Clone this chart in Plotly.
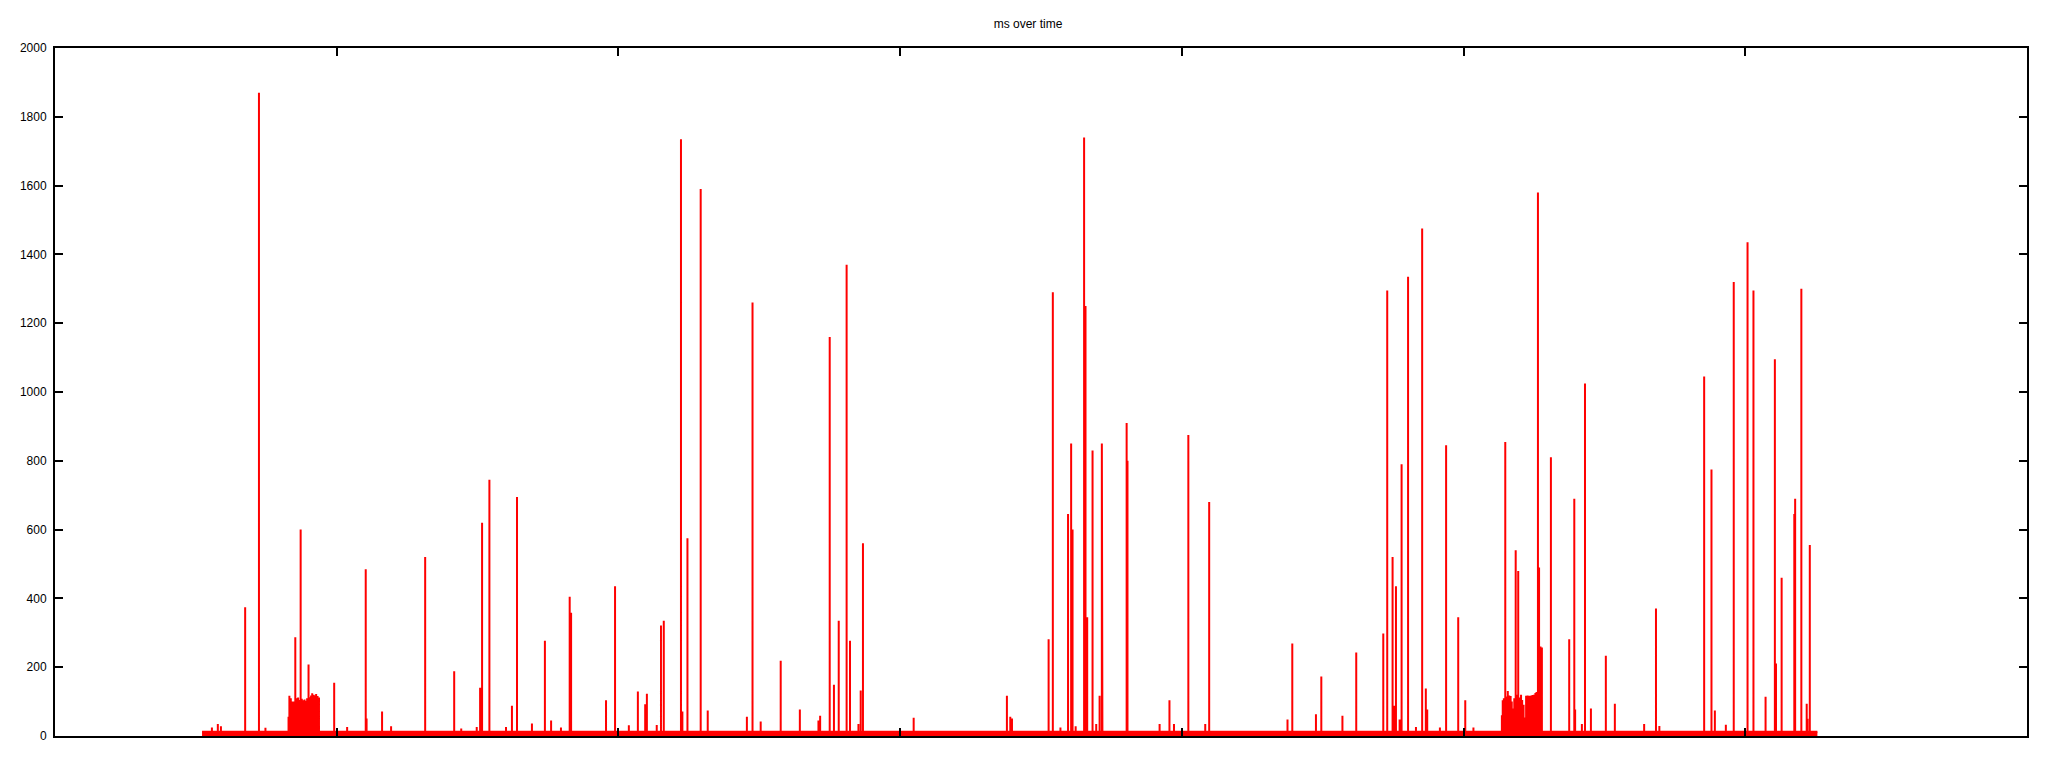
import plotly.graph_objects as go

# Event times (s) and response times (ms)
t_start, t_end = 522, 6256
baseline_ms = 12

spike_t = [
    557, 578, 589, 675, 724, 747,
    829, 832, 837, 842, 845, 849, 853, 858, 863, 867, 872, 876, 881, 886, 890, 895, 900, 904, 909, 913, 918, 923, 927, 932, 937,
    991, 1037, 1103, 1106, 1161, 1193, 1314, 1417, 1442, 1497, 1509, 1516, 1542, 1601, 1622, 1640,
    1693, 1739, 1761, 1796, 1827, 1832, 1956, 1988, 2037, 2069, 2095, 2101, 2136, 2151, 2161,
    2222, 2227, 2245, 2292, 2317, 2456, 2476, 2505, 2576, 2644, 2710, 2716, 2750, 2765, 2782,
    2810, 2822, 2852, 2860, 2868, 3048, 3379, 3391, 3397, 3527, 3542, 3569, 3596, 3607, 3612,
    3623, 3653, 3658, 3664, 3683, 3696, 3708, 3716, 3718, 3804, 3807, 3921, 3956, 3972, 4023,
    4083, 4097, 4375, 4392, 4476, 4495, 4570, 4619, 4715, 4729, 4748, 4753, 4760, 4773, 4780,
    4803, 4831, 4853, 4866, 4871, 4916, 4938, 4981, 5006, 5035,
    5136, 5139, 5143, 5148, 5153, 5157, 5162, 5167, 5171, 5176, 5180, 5185, 5190, 5194, 5199, 5204,
    5208, 5213, 5218, 5222, 5227, 5231, 5236, 5241, 5245, 5250, 5255, 5259, 5264, 5268, 5273, 5278,
    5310, 5375, 5393, 5396, 5420, 5431, 5452, 5505, 5537, 5641, 5683, 5695, 5854, 5880, 5892,
    5931, 5959, 6008, 6029, 6072, 6105, 6109, 6129, 6174, 6177, 6199, 6218, 6221, 6229,
]
spike_ms = [
    25, 35, 28, 374, 1870, 24,
    56, 117, 110, 100, 92, 100, 287, 110, 112, 105, 600, 108, 104, 106, 102, 110, 208, 113, 118, 124, 120, 118, 122, 116, 112,
    155, 26, 485, 51, 71, 28, 520, 188, 22, 26, 140, 620, 745, 26, 88, 695,
    36, 277, 45, 25, 405, 358, 104, 435, 31, 129, 92, 123, 32, 321, 335,
    1735, 71, 575, 1590, 74, 56, 1260, 42, 219, 77, 45, 59, 1160, 149, 335,
    1370, 277, 35, 132, 560, 53, 117, 56, 51, 281, 1290, 25, 645, 850, 600,
    28, 1740, 1250, 345, 830, 35, 117, 850, 530, 910, 800, 35, 104, 35, 875,
    35, 680, 48, 269, 63, 173, 59, 243, 298, 1295, 520, 88, 435, 48, 790,
    1335, 26, 1475, 138, 77, 25, 845, 345, 104, 25,
    60, 104, 110, 855, 115, 131, 118, 116, 100, 80, 110, 540, 120, 480, 112, 120,
    105, 91, 54, 117, 118, 117, 117, 118, 119, 120, 125, 128, 1580, 490, 260, 257,
    810, 281, 690, 77, 35, 1025, 80, 233, 94, 35, 371, 29, 1045, 775, 74,
    33, 1320, 1435, 1295, 114, 1095, 211, 460, 645, 690, 1300, 94, 50, 555,
]

# Build the line: baseline between events, vertical spike at each event
xs, ys = [t_start], [baseline_ms]
for t, v in zip(spike_t, spike_ms):
    xs += [t, t, t]
    ys += [baseline_ms, v, baseline_ms]
xs.append(t_end)
ys.append(baseline_ms)

fig = go.Figure()
fig.add_trace(go.Scatter(
    x=xs, y=ys, mode="lines",
    line=dict(color="#ff0000", width=2),
    fill="tozeroy", fillcolor="#ff0000",
    hoverinfo="skip", showlegend=False,
))

axis_common = dict(
    showline=True, linecolor="black", linewidth=2, mirror="ticks",
    ticks="inside", ticklen=8, tickwidth=1.5, tickcolor="black",
    showgrid=False, zeroline=False,
)
fig.update_layout(
    width=2040, height=760,
    paper_bgcolor="white", plot_bgcolor="white",
    margin=dict(l=42, r=21, t=40, b=32),
    font=dict(family="Liberation Sans, Arial, sans-serif", size=12, color="black"),
    title=dict(text="ms over time", x=0.5, xanchor="center", y=0.979, yanchor="middle",
               font=dict(size=12, color="black")),
    xaxis=dict(range=[0, 7000], dtick=1000, tick0=0, showticklabels=False, **axis_common),
    yaxis=dict(range=[0, 2000], dtick=200, tick0=0, ticklabelstandoff=4, **axis_common),
)

fig.write_html("out.html")
